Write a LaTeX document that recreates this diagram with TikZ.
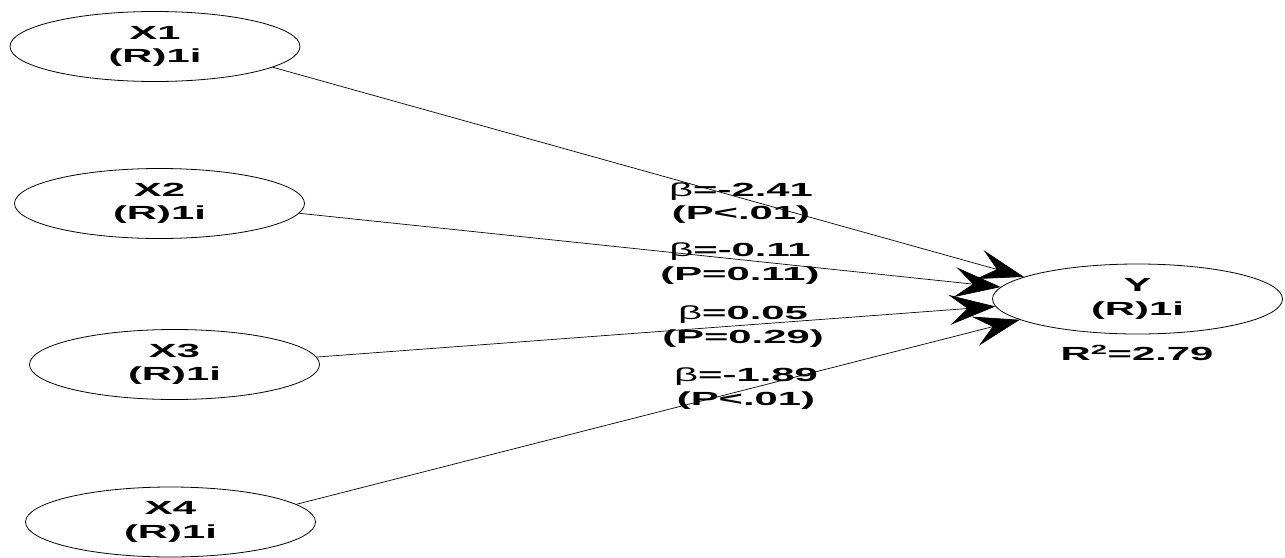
\documentclass[tikz,border=0pt]{standalone}
\usepackage{fontspec}
\setmainfont{Liberation Sans}[FakeStretch=2.2]
\usetikzlibrary{shapes.geometric,arrows.meta}
\newcommand\txtfont{\bfseries\fontsize{19}{23.5}\selectfont}
\newcommand\bet{{\mdseries β}}
\begin{document}
\begin{tikzpicture}[x=1pt,y=-1pt,
  lat/.style={ellipse,draw,line width=0.8pt,minimum width=290pt,minimum height=70pt,inner sep=0pt,align=center,font=\txtfont},
  lbl/.style={align=center,font=\txtfont,inner sep=0pt},
  link/.style={draw,line width=0.7pt,-{Stealth[length=46pt,width=30pt,inset=18pt]}}]
\useasboundingbox[fill=white] (0,0) rectangle (1285,557);
\node[lat] (X1) at (155,46.5) {X1\\(R)1i};
\node[lat] (X2) at (159.5,203.5) {X2\\(R)1i};
\node[lat] (X3) at (174.5,364.5) {X3\\(R)1i};
\node[lat] (X4) at (170.5,522) {X4\\(R)1i};
\node[lat] (Y) at (1137.5,299) {Y\\(R)1i};
\node[lbl] (r2) at (1137,353) {R\textsuperscript{2}=2.79};
\draw[link] (X1.-10.6) -- (Y.169.4);
\draw[link] (X2.-4) -- (Y.175.3);
\draw[link] (X3.3.3) -- (Y.-177.2);
\draw[link] (X4.8.7) -- (Y.-170.2);
\node[lbl] (l1) at (741,203) {\bet=-2.41\\(P<.01)};
\node[lbl] (l2) at (740,263.5) {\bet=-0.11\\(P=0.11)};
\node[lbl] (l3) at (743,326.5) {\bet=0.05\\(P=0.29)};
\node[lbl] (l4) at (746,388.5) {\bet=-1.89\\(P<.01)};
\end{tikzpicture}
\end{document}
